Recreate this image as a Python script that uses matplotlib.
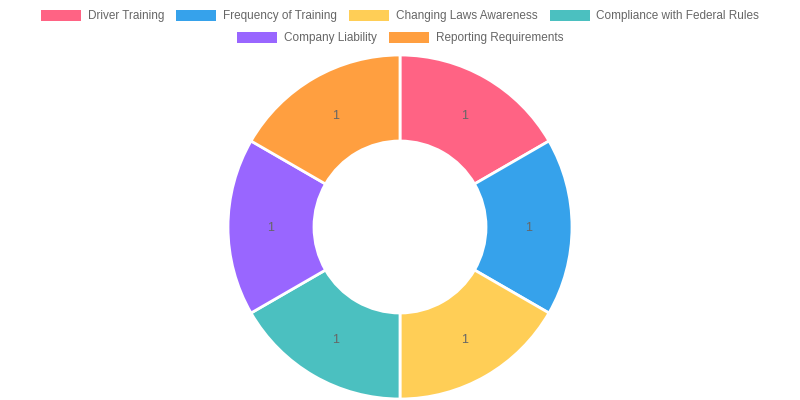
import matplotlib
matplotlib.use('Agg')
import matplotlib.pyplot as plt
from matplotlib.patches import Rectangle
import numpy as np

labels = ['Driver Training', 'Frequency of Training', 'Changing Laws Awareness',
          'Compliance with Federal Rules', 'Company Liability', 'Reporting Requirements']
values = [1, 1, 1, 1, 1, 1]
colours = ['#FF6384', '#36A2EB', '#FFCE56', '#4BC0C0', '#9966FF', '#FF9F40']
legend_rows = [[0, 1, 2, 3], [4, 5]]

plt.rcParams['font.family'] = ['Liberation Sans', 'DejaVu Sans']

W, H = 800, 400
fig = plt.figure(figsize=(W / 100, H / 100), dpi=100)

# doughnut
ax = fig.add_axes([228 / W, 1 / H, 344 / W, 344 / H])
wedges, _ = ax.pie(values, colors=colours, startangle=90, counterclock=False,
                   radius=1, wedgeprops=dict(width=0.5, edgecolor='white', linewidth=2))
total = sum(values)
cum = np.cumsum([0] + values)
for i, v in enumerate(values):
    ang = np.deg2rad(90 - 360 * (cum[i] + v / 2) / total)
    ax.text(0.75 * np.cos(ang), 0.75 * np.sin(ang) - 0.005, str(v), ha='center', va='center',
            fontsize=9, color='#666666')
ax.set_xlim(-1, 1)
ax.set_ylim(-1, 1)
ax.set_aspect('equal')
ax.axis('off')

# legend drawn manually (two centred rows)
renderer = fig.canvas.get_renderer()
row_y = [15.5, 37.5]
box_w, box_h = 40, 10
gap, pad = 7, 12
for r, row in enumerate(legend_rows):
    widths = []
    for i in row:
        t = fig.text(0, 0, labels[i], fontsize=8.5)
        widths.append(t.get_window_extent(renderer).width)
        t.remove()
    item_w = [box_w + gap + w for w in widths]
    total_w = sum(item_w) + pad * (len(row) - 1)
    x = W / 2 - total_w / 2
    y = H - row_y[r]
    for k, i in enumerate(row):
        fig.patches.append(Rectangle((x / W, (y - box_h / 2) / H), box_w / W, box_h / H,
                                     transform=fig.transFigure, facecolor=colours[i],
                                     edgecolor='none'))
        fig.text((x + box_w + gap) / W, y / H, labels[i], fontsize=8.5, color='#666666',
                 ha='left', va='center')
        x += item_w[k] + pad

fig.savefig('out.png', dpi=100)
